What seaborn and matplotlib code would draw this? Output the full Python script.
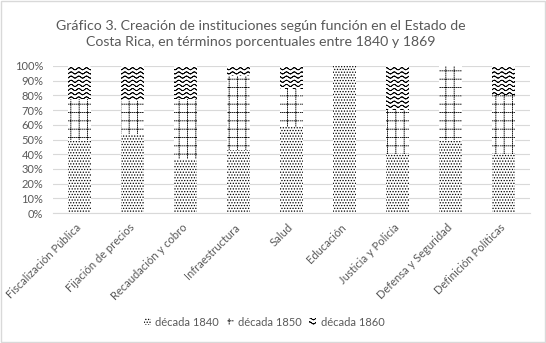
import warnings
warnings.filterwarnings("ignore")
import numpy as np
import matplotlib
matplotlib.use("Agg")
import matplotlib.pyplot as plt
import matplotlib.hatch as mhatch
from matplotlib.path import Path
from matplotlib.patches import Patch, Rectangle
from matplotlib.ticker import PercentFormatter
import seaborn as sns

# ---------------- data ----------------
categories = ["Fiscalización Pública", "Fijación de precios", "Recaudación y cobro",
              "Infraestructura", "Salud", "Educación", "Justicia y Policía",
              "Defensa y Seguridad", "Definición Políticas"]
dec1840 = [50.0, 53.8, 36.4, 42.9, 58.5, 100.0, 40.0, 50.0, 40.0]
dec1850 = [27.3, 23.1, 40.9, 50.0, 26.0, 0.0, 30.0, 50.0, 40.0]
dec1860 = [22.7, 23.1, 22.7, 7.1, 15.5, 0.0, 30.0, 0.0, 20.0]
series_labels = ["década 1840", "década 1850", "década 1860"]
title = ("Gráfico 3. Creación de instituciones según función en el Estado de\n"
         "Costa Rica, en términos porcentuales entre 1840 y 1869")
ytick_values = [0.0, 0.1, 0.2, 0.3, 0.4, 0.5, 0.6, 0.7, 0.8, 0.9, 1.0]


# ---------------- custom hatches ----------------
class WaveHatch(mhatch.HatchPatternBase):
    """'~' : rows of small waves"""
    def __init__(self, hatch, density):
        self.num_lines = int(hatch.count('~') * density)
        self.periods = 13
        self.nseg = self.periods * 8
        self.num_vertices = self.num_lines * self.nseg * 2

    def set_vertices_and_codes(self, vertices, codes):
        steps, stepsize = np.linspace(0.0, 1.0, self.num_lines, False, retstep=True)
        steps += stepsize / 2.0
        xs = np.linspace(0.0, 1.0, self.nseg + 1)
        amp = stepsize * 0.25
        wave = amp * np.sin(2 * np.pi * self.periods * xs)
        k = 0
        for s in steps:
            for j in range(self.nseg):
                vertices[k] = (xs[j], s + wave[j])
                codes[k] = Path.MOVETO
                vertices[k + 1] = (xs[j + 1], s + wave[j + 1])
                codes[k + 1] = Path.LINETO
                k += 2


class DottedGridHatch(mhatch.HatchPatternBase):
    """':' : grid of dotted lines"""
    def __init__(self, hatch, density):
        self.num_lines = int(hatch.count(':') * density)
        self.ndash = 50
        self.num_vertices = self.num_lines * self.ndash * 2 * 2

    def set_vertices_and_codes(self, vertices, codes):
        steps, stepsize = np.linspace(0.0, 1.0, self.num_lines, False, retstep=True)
        steps += stepsize / 2.0
        d0 = np.linspace(0.0, 1.0, self.ndash, endpoint=False)
        dl = 0.35 / self.ndash
        k = 0
        for s in steps:
            for a in d0:
                vertices[k] = (a, s)
                vertices[k + 1] = (a + dl, s)
                codes[k] = Path.MOVETO
                codes[k + 1] = Path.LINETO
                k += 2
                vertices[k] = (s, a)
                vertices[k + 1] = (s, a + dl)
                codes[k] = Path.MOVETO
                codes[k + 1] = Path.LINETO
                k += 2


mhatch._hatch_types.append(WaveHatch)
mhatch._hatch_types.append(DottedGridHatch)

plt.rcParams['font.family'] = ['Lato', 'DejaVu Sans']
plt.rcParams['hatch.linewidth'] = 0.6
plt.rcParams['hatch.color'] = 'black'

TXT = '#595959'
GRID = '#d9d9d9'

fig = plt.figure(figsize=(5.46, 3.43), dpi=100)
ax = fig.add_axes([53 / 546, 1 - 213 / 343, 477 / 546, 147 / 343])

v1 = np.array(dec1840) / 100.0
v2 = np.array(dec1850) / 100.0
v3 = np.array(dec1860) / 100.0
cum1 = v1
cum2 = v1 + v2
cum3 = v1 + v2 + v3

hatches = ['......', '::', '~~~~']
bw = 23 / 53
for vals, h in [(cum3, hatches[2]), (cum2, hatches[1]), (cum1, hatches[0])]:
    sns.barplot(x=categories, y=vals, order=categories, color='white', saturation=1,
                width=bw, hatch=h, edgecolor='black', linewidth=0, ax=ax)

ax.set_ylim(0, 1)
ax.set_xlim(-0.5, len(categories) - 0.5)
ax.set_yticks(ytick_values)
ax.yaxis.set_major_formatter(PercentFormatter(1.0, decimals=0))
ax.grid(axis='y', color=GRID, linewidth=0.8)
ax.set_axisbelow(True)
for side in ['top', 'right', 'left']:
    ax.spines[side].set_visible(False)
ax.spines['bottom'].set_color(GRID)
ax.spines['bottom'].set_linewidth(0.8)
ax.tick_params(axis='both', length=0, colors=TXT, labelsize=8)
ax.tick_params(axis='y', pad=7)
ax.tick_params(axis='x', pad=9)
ax.set_xlabel('')
ax.set_ylabel('')
for lab in ax.get_xticklabels():
    lab.set_rotation(45)
    lab.set_ha('right')
    lab.set_va('center')
    lab.set_rotation_mode('anchor')

fig.text(0.478, 1 - 34 / 343, title, ha='center', va='center', color=TXT,
         fontsize=10.2, linespacing=1.45, multialignment='center')

handles = [Patch(facecolor='white', edgecolor='black', linewidth=0, hatch=h)
           for h in hatches]
fig.legend(handles, series_labels, loc='center', bbox_to_anchor=(0.484, 1 - 322 / 343),
           ncol=3, frameon=False, fontsize=8, labelcolor=TXT, handlelength=0.6,
           handleheight=0.6, handletextpad=0.4, columnspacing=0.7)

fig.patches.append(Rectangle((0.001, 0.002), 0.997, 0.995, transform=fig.transFigure,
                             fill=False, edgecolor=GRID, linewidth=1.0))

fig.savefig('out.png', dpi=100)
